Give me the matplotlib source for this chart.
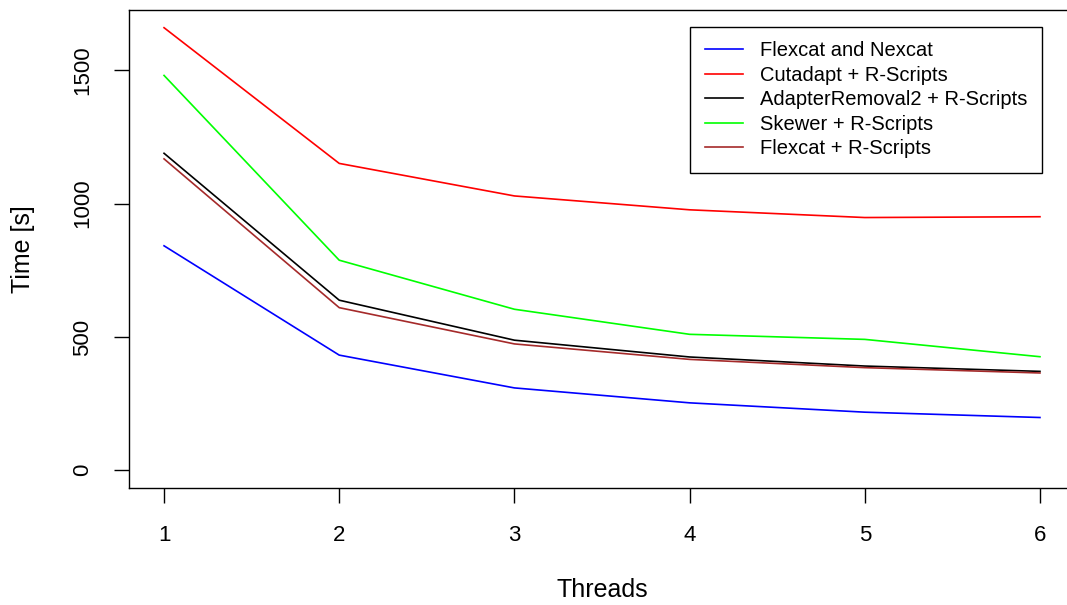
import matplotlib
matplotlib.use("Agg")
import matplotlib.pyplot as plt

#--- datos ---#
threads = [1, 2, 3, 4, 5, 6]
flexcat_nexcat = [842, 432, 309, 253, 218, 198]
cutadapt = [1660, 1151, 1029, 977, 948, 951]
adapterremoval2 = [1189, 638, 488, 425, 391, 371]
skewer = [1481, 788, 604, 510, 491, 426]
flexcat_r = [1168, 610, 474, 416, 385, 365]

nombres = ["Flexcat and Nexcat", "Cutadapt + R-Scripts",
           "AdapterRemoval2 + R-Scripts", "Skewer + R-Scripts",
           "Flexcat + R-Scripts"]
colores = ["#0000FF", "#FF0000", "#000000", "#00FF00", "#A52A2A"]

plt.rcParams["font.family"] = ["Liberation Sans", "DejaVu Sans"]

fig = plt.figure(figsize=(10.67, 6.05), dpi=100)
ax = fig.add_axes([129 / 1067, 1 - 488 / 605, 946 / 1067, 478 / 605])

series = [flexcat_nexcat, cutadapt, adapterremoval2, skewer, flexcat_r]
for ys, nombre, c in zip(series, nombres, colores):
    ax.plot(threads, ys, color=c, lw=1.2, label=nombre)

# rango estilo R (4% extra)
ymax = max(max(s) for s in series)
ax.set_xlim(1 - 0.2, 6 + 0.2)
ax.set_ylim(-0.04 * ymax, ymax * 1.04)

ax.set_xticks(threads)
ax.set_yticks([0, 500, 1000, 1500])
ax.tick_params(axis="both", direction="out", length=11, width=1.0,
               labelsize=16, color="black")
ax.tick_params(axis="x", pad=15.5)
ax.tick_params(axis="y", pad=15)
for lab in ax.get_yticklabels():
    lab.set_rotation(90)
    lab.set_va("center")
for sp in ax.spines.values():
    sp.set_linewidth(1.0)

ax.set_xlabel("Threads", fontsize=18)
ax.set_ylabel("Time [s]", fontsize=18)
ax.xaxis.set_label_coords(0.5, -0.188)
ax.yaxis.set_label_coords(-0.099, 0.5)

leg = ax.legend(loc="upper left", bbox_to_anchor=(690 / 1067, 1 - 27 / 605),
                bbox_transform=fig.transFigure, fontsize=14.5, frameon=True,
                fancybox=False, edgecolor="black", framealpha=1,
                handlelength=1.9, handletextpad=0.85, labelspacing=0.27,
                borderpad=0.72, borderaxespad=0)
leg.get_frame().set_linewidth(1.0)

plt.savefig("out.png", dpi=100)
